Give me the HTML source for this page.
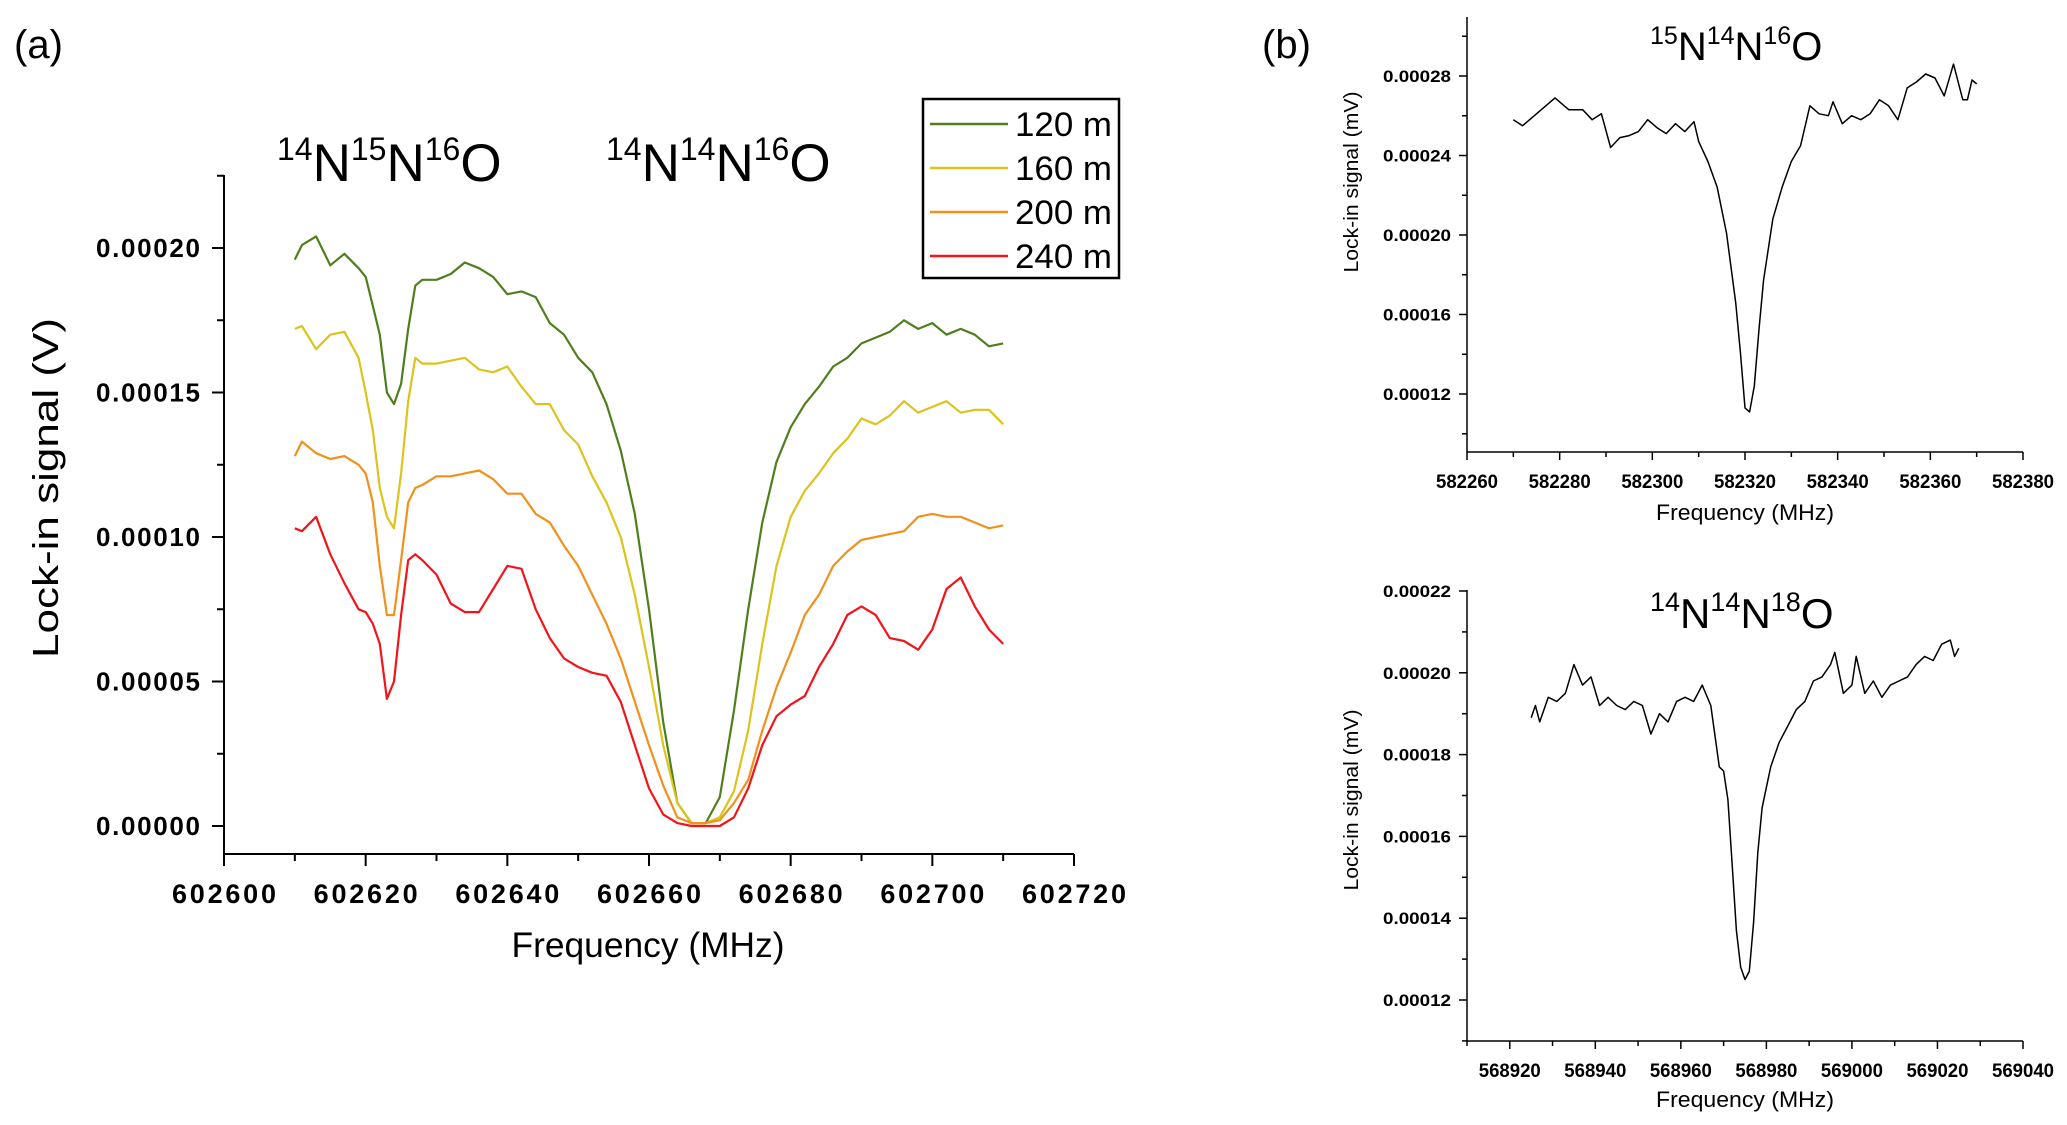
<!DOCTYPE html>
<html><head><meta charset="utf-8"><style>
body{margin:0;background:#fff;}
svg{display:block;font-family:"Liberation Sans",sans-serif;}
</style></head><body>
<svg id="fig" width="2067" height="1125" viewBox="0 0 2067 1125" xmlns="http://www.w3.org/2000/svg">
<text x="14" y="58" font-size="40">(a)</text>
<text x="1262" y="58" font-size="40">(b)</text>
<g id="pa"></g>
<g id="pb1"></g>
<g id="pb2"></g>
<text x="277" y="181" font-size="53"><tspan font-size="32" dy="-21">14</tspan><tspan dy="21">N</tspan><tspan font-size="32" dy="-21">15</tspan><tspan dy="21">N</tspan><tspan font-size="32" dy="-21">16</tspan><tspan dy="21">O</tspan></text>
<text x="606" y="181" font-size="53"><tspan font-size="32" dy="-21">14</tspan><tspan dy="21">N</tspan><tspan font-size="32" dy="-21">14</tspan><tspan dy="21">N</tspan><tspan font-size="32" dy="-21">16</tspan><tspan dy="21">O</tspan></text>
<text x="1650" y="60" font-size="40"><tspan font-size="25" dy="-16">15</tspan><tspan dy="16">N</tspan><tspan font-size="25" dy="-16">14</tspan><tspan dy="16">N</tspan><tspan font-size="25" dy="-16">16</tspan><tspan dy="16">O</tspan></text>
<text x="1650" y="628" font-size="42"><tspan font-size="27" dy="-17">14</tspan><tspan dy="17">N</tspan><tspan font-size="27" dy="-17">14</tspan><tspan dy="17">N</tspan><tspan font-size="27" dy="-17">18</tspan><tspan dy="17">O</tspan></text>
<g>
<rect x="923" y="99" width="196" height="179" fill="#fff" stroke="#000" stroke-width="2.5"/>
<g id="leg"></g>
</g>
</svg>
<script>
const NS="http://www.w3.org/2000/svg";
// Panel (a) data (frequency offsets from 602600 MHz; signal in 1e-5 V)
const freqA=[10,11,13,15,17,19,20,21,22,23,24,25,26,27,28,30,32,34,36,38,40,42,44,46,48,50,52,54,56,58,60,62,64,66,68,70,72,74,76,78,80,82,84,86,88,90,92,94,96,98,100,102,104,106,108,110];
const s120=[19.6,20.1,20.4,19.4,19.8,19.3,19.0,18.0,17.0,15.0,14.6,15.3,17.2,18.7,18.9,18.9,19.1,19.5,19.3,19.0,18.4,18.5,18.3,17.4,17.0,16.2,15.7,14.6,13.0,10.8,7.5,3.6,0.8,0.1,0.1,1.0,4.0,7.5,10.5,12.6,13.8,14.6,15.2,15.9,16.2,16.7,16.9,17.1,17.5,17.2,17.4,17.0,17.2,17.0,16.6,16.7];
const s160=[17.2,17.3,16.5,17.0,17.1,16.2,15.0,13.7,11.7,10.7,10.3,12.2,14.7,16.2,16.0,16.0,16.1,16.2,15.8,15.7,15.9,15.2,14.6,14.6,13.7,13.2,12.1,11.2,10.0,8.0,5.5,2.8,0.8,0.1,0.1,0.3,1.2,3.3,6.3,9.0,10.7,11.6,12.2,12.9,13.4,14.1,13.9,14.2,14.7,14.3,14.5,14.7,14.3,14.4,14.4,13.9];
const s200=[12.8,13.3,12.9,12.7,12.8,12.5,12.2,11.2,9.0,7.3,7.3,9.2,11.2,11.7,11.8,12.1,12.1,12.2,12.3,12.0,11.5,11.5,10.8,10.5,9.7,9.0,8.0,7.0,5.8,4.3,2.8,1.4,0.3,0.1,0.1,0.2,0.8,1.6,3.3,4.8,6.0,7.3,8.0,9.0,9.5,9.9,10.0,10.1,10.2,10.7,10.8,10.7,10.7,10.5,10.3,10.4];
const s240=[10.3,10.2,10.7,9.4,8.4,7.5,7.4,7.0,6.3,4.4,5.0,7.3,9.2,9.4,9.2,8.7,7.7,7.4,7.4,8.2,9.0,8.9,7.5,6.5,5.8,5.5,5.3,5.2,4.3,2.8,1.3,0.4,0.1,0,0,0,0.3,1.3,2.8,3.8,4.2,4.5,5.5,6.3,7.3,7.6,7.3,6.5,6.4,6.1,6.8,8.2,8.6,7.6,6.8,6.3];
const seriesNames=["120 m","160 m","200 m","240 m"];
const xTicksA=[602600,602620,602640,602660,602680,602700,602720];
const yTicksA=["0.00000","0.00005","0.00010","0.00015","0.00020"];
// Panel (b) top data
const freqB1=[582270,582272,582275,582279,582282,582285,582287,582289,582291,582293,582295,582297,582299,582301,582303,582305,582307,582309,582310,582312,582314,582316,582318,582319,582320,582321,582322,582323,582324,582326,582328,582330,582332,582334,582336,582338,582339,582341,582343,582345,582347,582349,582351,582353,582355,582357,582359,582361,582363,582365,582367,582368,582369,582370];
const sigB1=[2.58,2.55,2.61,2.69,2.63,2.63,2.58,2.61,2.44,2.49,2.50,2.52,2.58,2.54,2.51,2.56,2.52,2.57,2.47,2.37,2.24,2.01,1.66,1.41,1.13,1.11,1.24,1.52,1.77,2.08,2.24,2.37,2.45,2.65,2.61,2.60,2.67,2.56,2.60,2.58,2.61,2.68,2.65,2.58,2.74,2.77,2.81,2.79,2.70,2.86,2.68,2.68,2.78,2.76];
const xTicksB1=[582260,582280,582300,582320,582340,582360,582380];
const yTicksB1=["0.00012","0.00016","0.00020","0.00024","0.00028"];
// Panel (b) bottom data
const freqB2=[568925,568926,568927,568929,568931,568933,568935,568937,568939,568941,568943,568945,568947,568949,568951,568953,568955,568957,568959,568961,568963,568965,568967,568969,568970,568971,568972,568973,568974,568975,568976,568977,568978,568979,568980,568981,568983,568985,568987,568989,568991,568993,568995,568996,568998,569000,569001,569003,569005,569007,569009,569011,569013,569015,569017,569019,569021,569023,569024,569025];
const sigB2=[1.89,1.92,1.88,1.94,1.93,1.95,2.02,1.97,1.99,1.92,1.94,1.92,1.91,1.93,1.92,1.85,1.90,1.88,1.93,1.94,1.93,1.97,1.92,1.77,1.76,1.69,1.53,1.37,1.28,1.25,1.27,1.39,1.56,1.67,1.72,1.77,1.83,1.87,1.91,1.93,1.98,1.99,2.02,2.05,1.95,1.97,2.04,1.95,1.98,1.94,1.97,1.98,1.99,2.02,2.04,2.03,2.07,2.08,2.04,2.06];
const xTicksB2=[568920,568940,568960,568980,569000,569020,569040];
const yTicksB2=["0.00012","0.00014","0.00016","0.00018","0.00020","0.00022"];

function mk(tag,attrs,parent){const e=document.createElementNS(NS,tag);for(const k in attrs)e.setAttribute(k,attrs[k]);parent.appendChild(e);return e;}
function lin(d0,d1,r0,r1){return v=>r0+(v-d0)/(d1-d0)*(r1-r0);}

// ---- Panel A ----
const pa=document.getElementById('pa');
const xA=lin(602600,602720,224,1074), yA=lin(0,20,826,248);
let ax=mk('line',{x1:224,y1:175,x2:224,y2:854,stroke:'#000','stroke-width':2},pa);

ax=mk('line',{x1:224,y1:854,x2:1074,y2:854,stroke:'#000','stroke-width':2},pa);

for(let f=602600;f<=602720;f+=10){const x=xA(f);mk('line',{x1:x,y1:854,x2:x,y2:f%20==0?866:861,stroke:'#000','stroke-width':2},pa);}
xTicksA.forEach(f=>{const t=mk('text',{x:xA(f),y:903,'font-size':27,'font-weight':'bold','text-anchor':'middle',textLength:104,lengthAdjust:'spacing'},pa);t.textContent=f;
});
for(let v=0;v<=22.5;v+=2.5){const y=yA(v);mk('line',{x1:224,y1:y,x2:v%5==0?212:217,y2:y,stroke:'#000','stroke-width':2},pa);}
yTicksA.forEach(s=>{const v=parseFloat(s)*1e5;const t=mk('text',{x:200,y:yA(v)+9,'font-size':26,'font-weight':'bold','text-anchor':'end',textLength:104,lengthAdjust:'spacing'},pa);t.textContent=s;
});
let tt=mk('text',{x:648,y:957,'font-size':35,'text-anchor':'middle',textLength:273,lengthAdjust:'spacingAndGlyphs'},pa);tt.textContent='Frequency (MHz)';

tt=mk('text',{x:58,y:488,'font-size':36,'text-anchor':'middle',textLength:340,lengthAdjust:'spacingAndGlyphs',transform:'rotate(-90 58 488)'},pa);tt.textContent='Lock-in signal (V)';

const colors=['#4e7f1c','#dcc31e','#f2901c','#f2141a'];
const sets=[s120,s160,s200,s240];
sets.forEach((s,i)=>{const pts=freqA.map((f,j)=>xA(602600+f).toFixed(1)+','+yA(s[j]).toFixed(1)).join(' ');
const p=mk('polyline',{points:pts,fill:'none',stroke:colors[i],'stroke-width':2.2,'stroke-linejoin':'round'},pa);
});
const leg=document.getElementById('leg');
seriesNames.forEach((n,i)=>{const y=124+i*44;
const l=mk('line',{x1:930,y1:y,x2:1008,y2:y,stroke:colors[i],'stroke-width':2.5},leg);

const t=mk('text',{x:1015,y:y+12,'font-size':34,textLength:97,lengthAdjust:'spacingAndGlyphs'},leg);t.textContent=n;
});

// ---- Panel B ----
function panelB(g,freq,sig,xt,yt,x0,x1,xd0,xd1,ytop,ybot,yv0,yv1,yp0,yp1,minorY,tag,lblY,titY,ytitC){
 const xs=lin(xd0,xd1,x0,x1), ys=lin(yv0,yv1,yp0,yp1);
 let a=mk('line',{x1:x0,y1:ytop,x2:x0,y2:ybot,stroke:'#000','stroke-width':1.5},g);
 
 a=mk('line',{x1:x0,y1:ybot,x2:x1,y2:ybot,stroke:'#000','stroke-width':1.5},g);
 
 for(let f=xt[0]-10;f<=xt[xt.length-1];f+=10){if(f<xd0-0.01)continue;const x=xs(f);mk('line',{x1:x,y1:ybot,x2:x,y2:ybot+((f-xt[0])%20==0?8:5),stroke:'#000','stroke-width':1.5},g);}
 xt.forEach(f=>{const t=mk('text',{x:xs(f),y:lblY,'font-size':19,'font-weight':'bold','text-anchor':'middle',textLength:62,lengthAdjust:'spacingAndGlyphs'},g);t.textContent=f;
 });
 for(let v=yv0-10*minorY;v<=yv1+10*minorY;v+=minorY){const y=ys(v);if(y<ytop-0.5||y>ybot+0.5)continue;const major=yt.some(s=>Math.abs(parseFloat(s)*1e4-v)<1e-6);
  mk('line',{x1:x0,y1:y,x2:x0-(major?8:5),y2:y,stroke:'#000','stroke-width':1.5},g);}
 yt.forEach(s=>{const v=parseFloat(s)*1e4;const t=mk('text',{x:1451,y:ys(v)+6,'font-size':17,'font-weight':'bold','text-anchor':'end',textLength:68,lengthAdjust:'spacingAndGlyphs'},g);t.textContent=s;
 });
 let t=mk('text',{x:1745,y:titY,'font-size':22,'text-anchor':'middle',textLength:178,lengthAdjust:'spacingAndGlyphs'},g);t.textContent='Frequency (MHz)';
 
 t=mk('text',{x:1358,y:ytitC,'font-size':20,'text-anchor':'middle',textLength:181,lengthAdjust:'spacingAndGlyphs',transform:'rotate(-90 1358 '+ytitC+')'},g);t.textContent='Lock-in signal (mV)';
 
 const pts=freq.map((f,j)=>xs(f).toFixed(1)+','+ys(sig[j]).toFixed(1)).join(' ');
 const p=mk('polyline',{points:pts,fill:'none',stroke:'#000','stroke-width':1.5,'stroke-linejoin':'round'},g);
 
}
panelB(document.getElementById('pb1'),freqB1,sigB1,xTicksB1,yTicksB1,1467,2023,582260,582380,17,452,1.2,2.8,394,76,0.2,'b-top',488,520,182);
panelB(document.getElementById('pb2'),freqB2,sigB2,xTicksB2,yTicksB2,1467,2023,568910,569040,590,1041,1.2,2.2,1000,591,0.1,'b-bottom',1077,1107,800);
</script>
</body></html>
